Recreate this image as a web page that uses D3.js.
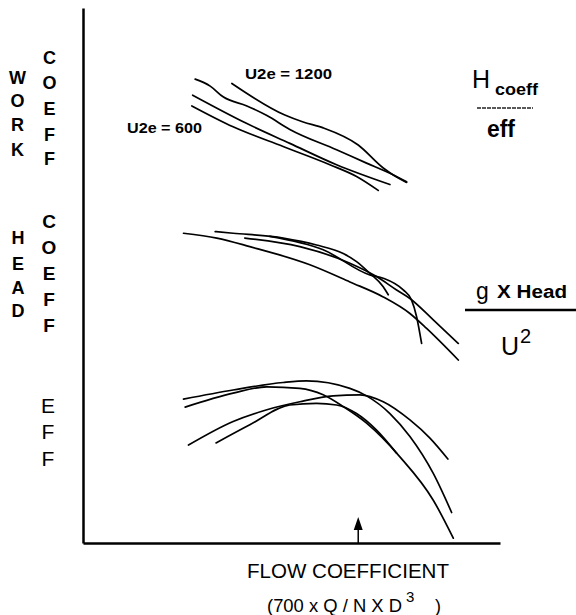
<!DOCTYPE html>
<html>
<head>
<meta charset="utf-8">
<script src="https://cdn.jsdelivr.net/npm/d3@7"></script>
<style>
  body { margin: 0; background: #fff; }
  svg { display: block; }
  .axis path { stroke: #000; stroke-width: 2.5; }
  .curve { fill: none; stroke: #000; stroke-width: 1.7; stroke-linejoin: round; stroke-linecap: round; }
  text { fill: #000; font-family: "Liberation Sans", Arial, sans-serif; }
</style>
</head>
<body>
<svg id="chart" width="576" height="615"></svg>
<script>
// Curve data, flow coefficient (x) vs relative value (y), both in 0-100 units
// Work coefficient (H coeff / eff)
var work1200 = [[35.7,85.9],[48.4,80.0],[52.8,78.7],[57.6,77.6],[66.0,74.4],[72.0,70.1],[74.4,68.8],[77.6,67.4]];
var workB = [[26.9,86.7],[30.5,85.4],[33.6,83.4],[39.3,81.7],[44.1,79.9],[49.6,77.3],[60.8,73.5],[68.0,71.0],[73.6,69.1],[77.6,67.5]];
var workC = [[26.3,83.7],[39.3,78.4],[49.6,74.7],[60.8,70.7],[73.6,67.0]];
var work600 = [[26.1,81.7],[36.0,77.8],[48.0,74.1],[59.2,70.7],[65.6,68.5],[70.8,65.9]];

// Head coefficient (g x Head / U^2)
var headA = [[24.1,57.9],[32.1,57.0],[40.0,55.4],[54.4,52.0],[64.0,48.8],[72.0,46.0],[78.4,42.9],[82.4,40.1],[90.0,34.2]];
var headB = [[31.7,58.2],[36.0,57.9],[48.0,57.0],[56.0,55.7],[62.4,54.1],[65.6,52.6],[68.8,50.4],[72.0,47.9],[73.2,46.4]];
var headC = [[38.8,57.0],[52.0,55.4],[64.0,52.3],[70.4,49.8],[75.2,47.3],[78.4,45.7],[84.0,41.7],[90.0,37.3]];
var headD = [[44.8,57.3],[57.6,54.8],[68.8,50.1],[72.0,49.5],[76.8,47.3],[78.8,45.4],[80.0,42.3],[81.2,37.3]];

// Efficiency
var effA = [[24.1,26.9],[36.0,28.6],[48.0,30.0],[53.6,30.3],[64.0,28.9],[68.0,27.5],[73.6,24.2],[78.4,19.9],[84.0,13.0],[88.4,5.7]];
var effB = [[24.5,25.4],[36.0,28.0],[44.1,29.2],[52.0,28.9],[57.6,27.7],[62.4,25.5],[68.0,22.4],[76.0,16.1],[84.0,8.0],[88.8,0.9]];
var effC = [[25.3,18.3],[36.0,22.7],[44.1,24.9],[52.0,26.4],[60.0,27.5],[66.4,27.7],[72.0,26.4],[78.4,23.0],[83.2,19.6],[87.5,15.7]];
var effD = [[31.9,18.7],[40.0,22.1],[49.6,25.8],[56.0,26.1],[60.8,25.8],[65.6,24.2],[70.4,21.1],[75.2,16.8]];

var designPoint = 66.0; // arrow on the flow axis

var svg = d3.select("#chart");

var x = d3.scaleLinear().domain([0, 100]).range([83, 500]);
var y = d3.scaleLinear().domain([0, 100]).range([543, 8]);

// Axes: plain lines, no ticks
svg.append("g")
  .attr("class", "axis")
  .attr("transform", "translate(83,0)")
  .call(d3.axisLeft(y).tickValues([]).tickSizeOuter(0));
svg.append("g")
  .attr("class", "axis")
  .attr("transform", "translate(0,543)")
  .call(d3.axisBottom(x).tickValues([]).tickSizeOuter(0));

var line = d3.line()
  .x(d => x(d[0]))
  .y(d => y(d[1]))
  .curve(d3.curveMonotoneX);

var curves = [work1200, workB, workC, work600, headA, headB, headC, headD, effA, effB, effC, effD];
svg.selectAll("path.curve")
  .data(curves)
  .enter()
  .append("path")
  .attr("class", "curve")
  .attr("d", line);

// Arrow marking design flow
var ax = x(designPoint);
svg.append("line")
  .attr("x1", ax).attr("x2", ax)
  .attr("y1", 527).attr("y2", 543)
  .attr("stroke", "#000").attr("stroke-width", 1.5);
svg.append("path")
  .attr("d", `M${ax},517L${ax - 4.5},530L${ax + 4.5},530Z`)
  .attr("fill", "#000");

// Curve labels
svg.append("text").attr("x", 245).attr("y", 79)
  .attr("font-size", 15).attr("font-weight", "bold")
  .attr("textLength", 87).attr("lengthAdjust", "spacingAndGlyphs")
  .text("U2e = 1200");
svg.append("text").attr("x", 127).attr("y", 133)
  .attr("font-size", 15).attr("font-weight", "bold")
  .attr("textLength", 75).attr("lengthAdjust", "spacingAndGlyphs")
  .text("U2e = 600");

// Vertical letter labels on the left
function column(word, cx, centers, size, weight) {
  svg.append("g").selectAll("text")
    .data(word.split(""))
    .enter()
    .append("text")
    .attr("x", cx)
    .attr("y", (d, i) => centers[i])
    .attr("text-anchor", "middle")
    .attr("dominant-baseline", "central")
    .attr("font-size", size)
    .attr("font-weight", weight)
    .text(d => d);
}
column("WORK", 17.5, [78, 101, 125, 150], 18, "bold");
column("COEFF", 49.5, [58, 83, 109, 135, 159], 18, "bold");
column("HEAD", 18, [237.5, 264, 288, 311], 18, "bold");
column("COEFF", 49, [221, 247, 273, 299, 325], 19, "bold");
column("EFF", 48, [405, 431.5, 458], 21, "normal");

// H coeff / eff
svg.append("text").attr("x", 472).attr("y", 88).attr("font-size", 25).text("H");
svg.append("text").attr("x", 495).attr("y", 95)
  .attr("font-size", 16).attr("font-weight", "bold")
  .attr("textLength", 43).attr("lengthAdjust", "spacingAndGlyphs")
  .text("coeff");
svg.append("line")
  .attr("x1", 477).attr("x2", 533).attr("y1", 108).attr("y2", 108)
  .attr("stroke", "#222").attr("stroke-width", 1.6).attr("stroke-dasharray", "4,1");
svg.append("text").attr("x", 487).attr("y", 137)
  .attr("font-size", 23).attr("font-weight", "bold")
  .attr("textLength", 28).attr("lengthAdjust", "spacingAndGlyphs")
  .text("eff");

// g x Head / U^2
svg.append("text").attr("x", 476).attr("y", 299).attr("font-size", 23).text("g");
svg.append("text").attr("x", 497).attr("y", 298)
  .attr("font-size", 18).attr("font-weight", "bold")
  .attr("textLength", 70).attr("lengthAdjust", "spacingAndGlyphs")
  .text("X Head");
svg.append("line")
  .attr("x1", 465).attr("x2", 576).attr("y1", 310).attr("y2", 310)
  .attr("stroke", "#000").attr("stroke-width", 2.5);
svg.append("text").attr("x", 501).attr("y", 355).attr("font-size", 25).text("U");
svg.append("text").attr("x", 520).attr("y", 343).attr("font-size", 20).text("2");

// Flow coefficient title
svg.append("text").attr("x", 247).attr("y", 578)
  .attr("font-family", "DejaVu Sans, sans-serif").attr("font-size", 20)
  .attr("textLength", 202).attr("lengthAdjust", "spacingAndGlyphs")
  .text("FLOW COEFFICIENT");
svg.append("text").attr("x", 267).attr("y", 611.5)
  .attr("font-family", "DejaVu Sans, sans-serif").attr("font-size", 18)
  .attr("textLength", 135).attr("lengthAdjust", "spacingAndGlyphs")
  .text("(700 x Q / N X D");
svg.append("text").attr("x", 406).attr("y", 601.5)
  .attr("font-family", "DejaVu Sans, sans-serif").attr("font-size", 15)
  .text("3");
svg.append("text").attr("x", 435).attr("y", 611.5)
  .attr("font-family", "DejaVu Sans, sans-serif").attr("font-size", 18)
  .text(")");
</script>
</body>
</html>
